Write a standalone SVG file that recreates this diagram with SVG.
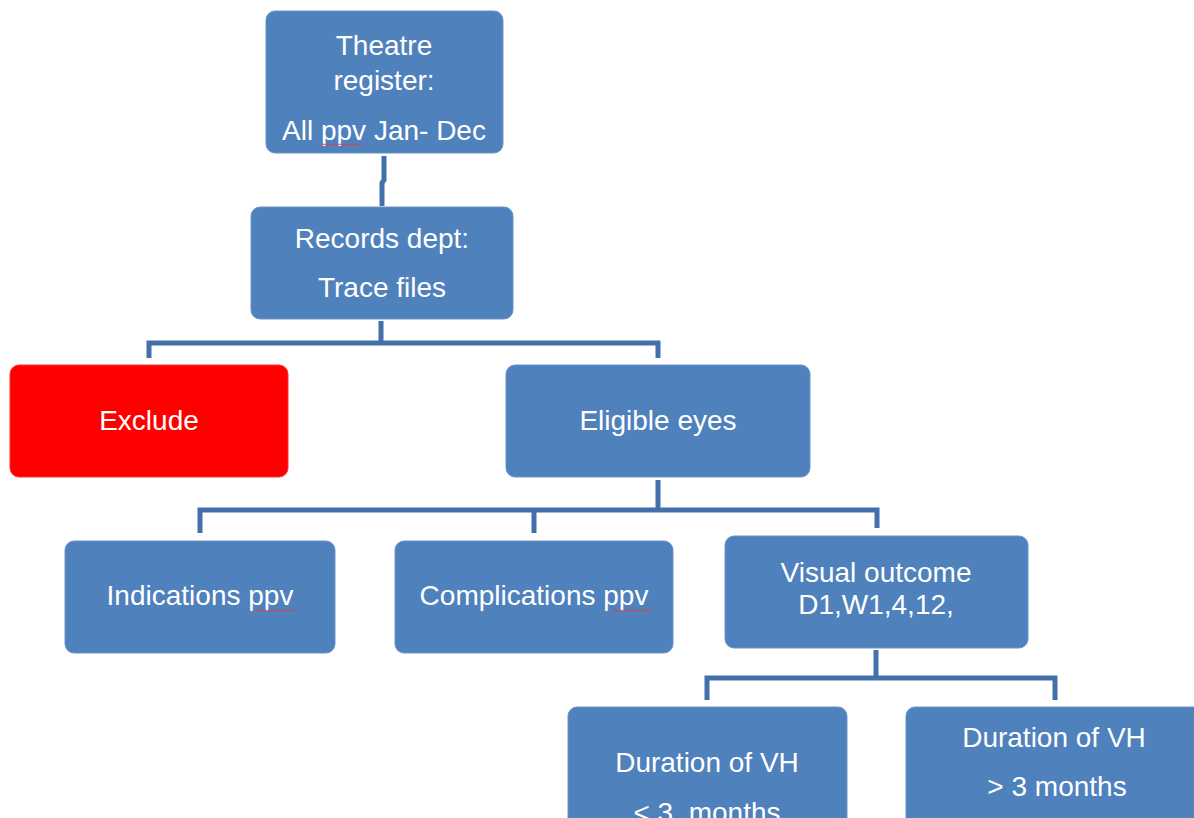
<svg xmlns="http://www.w3.org/2000/svg" width="1194" height="818" viewBox="0 0 1194 818">
<style>
.box{fill:#4f81bd;stroke:#6a93c8;stroke-width:1}
.red{fill:#ff0000;stroke:#ff3030;stroke-width:1}
.t{font-family:"Liberation Sans",Arial,sans-serif;font-size:28px;fill:#ffffff;text-anchor:middle}
.c{fill:none;stroke:#4270aa;stroke-width:5;stroke-linejoin:miter}
.sq{fill:none;stroke:#e04040;stroke-width:1}
</style>
<rect width="1194" height="818" fill="#ffffff"/>
<g id="connectors">
<path class="c" d="M384 156 V180 L382 183 V206"/>
<path class="c" d="M381 321 V343 M149 358 V343 H658 V358"/>
<path class="c" d="M658 480 V510 M200 533 V510 H877 V528 M534 510 V533"/>
<path class="c" d="M876 650 V678 M707 700 V678 H1055 V700"/>
</g>
<g id="theatre">
<rect class="box" x="266" y="11" width="237" height="142" rx="9"/>
<text class="t" x="384" y="55">Theatre</text>
<text class="t" x="384" y="90">register:</text>
<text class="t" x="384" y="140">All ppv Jan- Dec</text>
<path class="sq" d="M322 145 l2 -1 l2 1 l2 -1 l2 1 l2 -1 l2 1 l2 -1 l2 1 l2 -1 l2 1 l2 -1 l2 1 l2 -1 l2 1 l2 -1 l2 1 l2 -1 l2 1 l2 -1 l2 1"/>
</g>
<g id="records">
<rect class="box" x="251" y="207" width="262" height="112" rx="9"/>
<text class="t" x="382" y="248">Records dept:</text>
<text class="t" x="382" y="297">Trace files</text>
</g>
<g id="exclude">
<rect class="red" x="10" y="365" width="278" height="112" rx="9"/>
<text class="t" x="149" y="430">Exclude</text>
</g>
<g id="eligible">
<rect class="box" x="506" y="365" width="304" height="112" rx="9"/>
<text class="t" x="658" y="430">Eligible eyes</text>
</g>
<g id="indications">
<rect class="box" x="65" y="541" width="270" height="112" rx="9"/>
<text class="t" x="200" y="605">Indications ppv</text>
<path class="sq" d="M255 611 l2 -1 l2 1 l2 -1 l2 1 l2 -1 l2 1 l2 -1 l2 1 l2 -1 l2 1 l2 -1 l2 1 l2 -1 l2 1 l2 -1 l2 1 l2 -1 l2 1 l2 -1 l2 1"/>
</g>
<g id="complications">
<rect class="box" x="395" y="541" width="278" height="112" rx="9"/>
<text class="t" x="534" y="605">Complications ppv</text>
<path class="sq" d="M612 611 l2 -1 l2 1 l2 -1 l2 1 l2 -1 l2 1 l2 -1 l2 1 l2 -1 l2 1 l2 -1 l2 1 l2 -1 l2 1 l2 -1 l2 1 l2 -1 l2 1 l2 -1 l2 1"/>
</g>
<g id="visual">
<rect class="box" x="725" y="536" width="303" height="112" rx="9"/>
<text class="t" x="876" y="582">Visual outcome</text>
<text class="t" x="876" y="614">D1,W1,4,12,</text>
</g>
<g id="dur-less">
<rect class="box" x="568" y="707" width="279" height="130" rx="9"/>
<text class="t" x="707" y="772">Duration of VH</text>
<text class="t" x="707" y="822">&lt; 3&#160; months</text>
</g>
<g id="dur-more">
<rect class="box" x="906" y="707" width="300" height="130" rx="9"/>
<text class="t" x="1054" y="747">Duration of VH</text>
<text class="t" x="1057" y="796">&gt; 3 months</text>
</g>
</svg>
